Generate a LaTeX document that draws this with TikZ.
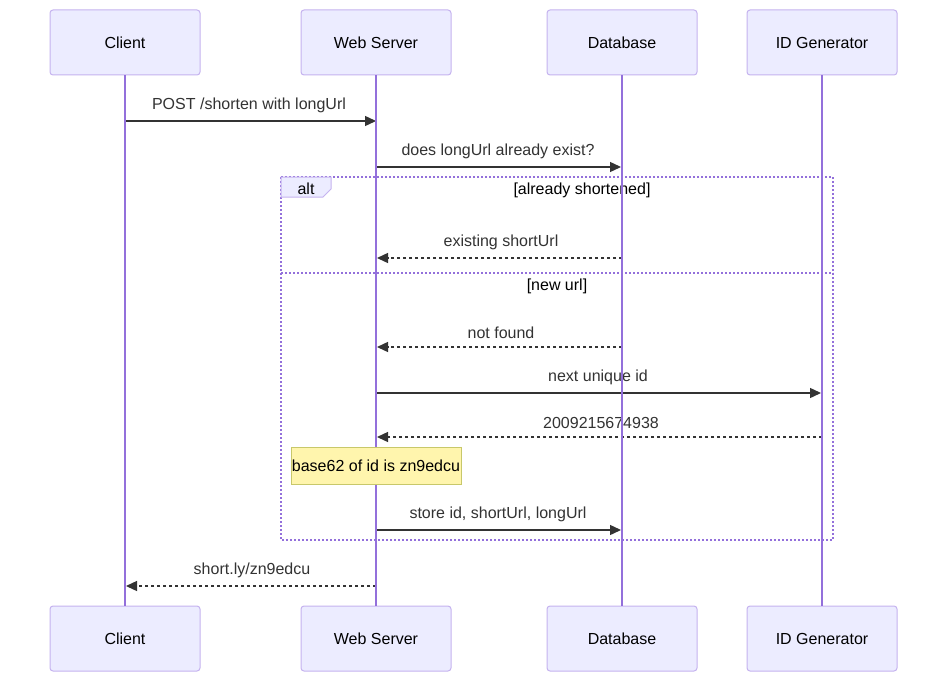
\documentclass[tikz,border=0pt]{standalone}
\usepackage{fontspec}
\setmainfont{Liberation Sans}
\usetikzlibrary{arrows.meta}
\definecolor{actfill}{HTML}{ECECFF}
\definecolor{actline}{HTML}{C5B3EF}
\definecolor{life}{HTML}{9370DB}
\definecolor{msg}{HTML}{333333}
\definecolor{notefill}{HTML}{FFF5AD}
\definecolor{noteline}{HTML}{C8C86A}
\tikzset{
  actor/.style={draw=actline, fill=actfill, line width=1pt, rounded corners=3pt,
    minimum width=150pt, minimum height=65pt, inner sep=0pt, font=\fontsize{16}{19}\selectfont, text=black},
  lifeline/.style={draw=life, line width=1.4pt},
  msgline/.style={draw=msg, line width=1.4pt, -{Triangle[length=11pt,width=10pt]}},
  reply/.style={msgline, dash pattern=on 3pt off 3pt},
  msglabel/.style={font=\fontsize{16}{19}\selectfont, text=msg, inner sep=0pt},
  frame/.style={draw=life, line width=1.4pt, dash pattern=on 2pt off 2pt},
  seclabel/.style={font=\fontsize{16}{19}\selectfont, text=black, inner sep=0pt},
  notebox/.style={draw=noteline, fill=notefill, line width=1pt, minimum width=170pt,
    minimum height=37pt, inner sep=0pt, font=\fontsize{16}{19}\selectfont, text=black}
}
\begin{document}
\begin{tikzpicture}[x=1pt,y=-1pt]
\useasboundingbox[fill=white] (0,0) rectangle (947,682);
% actors
\node[actor] (cT) at (125,42.5) {Client};
\node[actor] (wT) at (376,42.5) {Web Server};
\node[actor] (dT) at (622,42.5) {Database};
\node[actor] (iT) at (822,42.5) {ID Generator};
\node[actor] (cB) at (125,638.5) {Client};
\node[actor] (wB) at (376,638.5) {Web Server};
\node[actor] (dB) at (622,638.5) {Database};
\node[actor] (iB) at (822,638.5) {ID Generator};
% alt frame
\draw[frame] (281,177) rectangle (833,540);
\draw[frame] (281,273) -- (833,273);
\draw[draw=actline, fill=actfill, line width=1pt] (281,177) -- (331,177) -- (331,189) -- (323,197) -- (281,197) -- cycle;
\node[seclabel] (alt) at (306,189) {alt};
\node[seclabel] (s1) at (582,190) {[already shortened]};
\node[seclabel] (s2) at (557,286) {[new url]};
% message endpoints
\foreach \n/\x/\y in {a1/125/121, b1/376/121, a2/376/167, b2/621/167,
  a3/622/258, b3/377/258, a4/622/347, b4/377/347, a5/376/393, b5/821/393,
  a6/822/437, b6/377/437, a7/376/530, b7/621/530, a8/376/586, b8/126/586}
  {\coordinate (\n) at (\x,\y);}
\draw[msgline] (a1) -- (b1);
\node[msglabel] (l1) at (249,105) {POST /shorten with longUrl};
\draw[msgline] (a2) -- (b2);
\node[msglabel] (l2) at (498,151) {does longUrl already exist?};
\draw[reply] (a3) -- (b3);
\node[msglabel] (l3) at (501,242) {existing shortUrl};
\draw[reply] (a4) -- (b4);
\node[msglabel] (l4) at (501,333) {not found};
\draw[msgline] (a5) -- (b5);
\node[msglabel] (l5) at (598,377) {next unique id};
\draw[reply] (a6) -- (b6);
\node[msglabel] (l6) at (601,423) {2009215674938};
\draw[msgline] (a7) -- (b7);
\node[msglabel] (l7) at (498,514) {store id, shortUrl, longUrl};
\draw[reply] (a8) -- (b8);
\node[msglabel] (l8) at (252,570) {short.ly/zn9edcu};
% lifelines
\draw[lifeline] (cT.south) -- (cB.north);
\draw[lifeline] (wT.south) -- (wB.north);
\draw[lifeline] (dT.south) -- (dB.north);
\draw[lifeline] (iT.south) -- (iB.north);
% note
\node[notebox] (note) at (376,465.5) {base62 of id is zn9edcu};
\end{tikzpicture}
\end{document}
